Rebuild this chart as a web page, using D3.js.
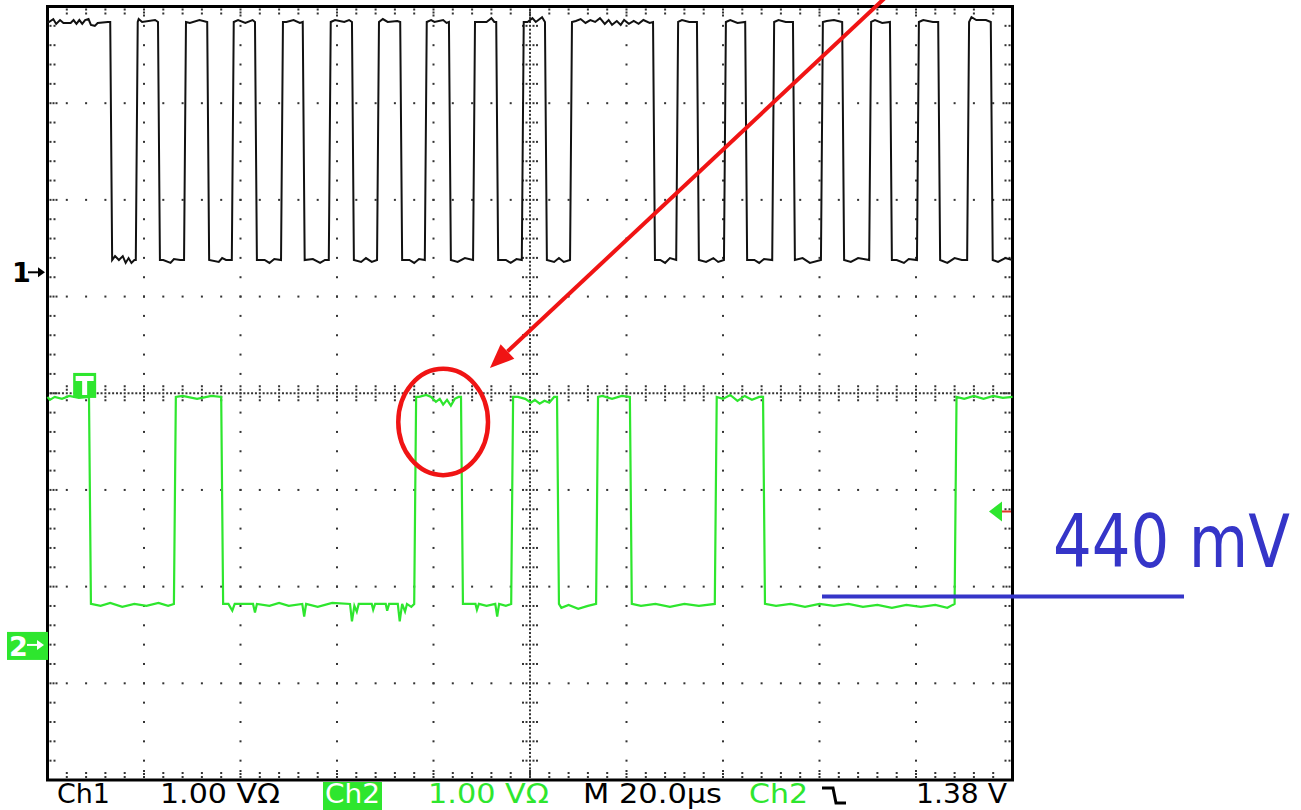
<!DOCTYPE html>
<html>
<head>
<meta charset="utf-8">
<script src="https://cdn.jsdelivr.net/npm/d3@7"></script>
<style>
  body { margin: 0; background: #fff; }
  svg { display: block; }
  text { font-family: "DejaVu Sans", sans-serif; }
</style>
</head>
<body>
<div id="scope"></div>
<script>
// screen is 10 div x 20 us across, 8 div tall
var timeRange = [0, 200]; // us
var divRange = [-4, 4];
var voltsPerDiv = 1.0;

// channel ground markers (div from centre) and levels (V)
var ch1Pos = 1.251, ch2Pos = -2.603;
var ch1High = 2.589, ch1Low = 0.127;
var ch2High = 2.565, ch2Low = 0.424;
var trigLevel = 1.38; // V on ch2
var trigTime = 7.7;   // us
var markLevel = 0.5;  // blue annotation line, V on ch2

// edge times (us), both traces start high
var ch1Edges = [13.0, 18.3, 22.9, 28.3, 33.1, 38.2, 43.0, 48.4, 52.9, 58.3, 63.1, 68.3,
  73.1, 78.2, 83.2, 88.2, 93.0, 98.3, 103.1, 108.3, 125.5, 130.3, 134.6, 140.2, 144.6,
  150.2, 154.5, 160.3, 164.7, 170.3, 174.6, 180.2, 184.6, 190.6, 195.5];
var ch2Edges = [8.6, 26.2, 36.0, 76.0, 85.7, 96.1, 105.6, 113.7, 120.7, 138.3, 148.3, 188.0];

// noise on the flat parts [t us, dV]
var ch1Ripple = [[0.3,0],[1.2,0.03],[1.8,-0.02],[2.6,0.02],[3.3,-0.01],[4.8,-0.01],[5.4,0.02],
  [6.0,-0.02],[6.6,0.02],[7.2,-0.02],[7.8,0.02],[8.5,0.03],[9.0,-0.03],[9.8,-0.04],[10.4,-0.01],[12.5,0],
  [14.0,0.04],[14.8,0],[15.6,0.04],[16.2,-0.03],[16.8,0.02],[17.4,-0.03],[18.0,0],
  [18.9,0.03],[19.6,0],[22.3,0.02],[24.0,0],[25.5,-0.03],[26.2,0.01],[27.5,0],
  [29.5,-0.01],[31.5,0.02],[35.5,-0.02],[36.2,0.02],[37.0,0],[39.5,0.02],[41.0,-0.01],[42.5,0.02],
  [45.0,0],[46.0,-0.03],[47.0,0.01],[49.5,0],[51.0,0.02],[52.3,-0.01],[55.0,0.01],[56.5,-0.03],[57.5,0],
  [59.6,0.02],[61.5,0],[62.5,0.02],[65.0,-0.02],[66.0,0.02],[67.2,-0.02],[69.5,0.03],[70.5,0],[72.5,0.01],
  [75.0,0],[76.0,-0.03],[77.0,0.01],[79.5,0.02],[80.2,0],[82.0,0.02],[82.7,-0.01],[85.0,-0.02],[86.5,0.02],
  [89.2,0],[91.0,0],[92.0,0.04],[92.6,0],[95.0,0],[96.0,-0.03],[97.2,0.01],
  [99.5,0],[100.5,0.04],[101.2,0],[102.5,0.05],[105.0,-0.02],[106.0,0.02],[107.0,-0.02],
  [109.5,0.01],[110.5,0.03],[111.5,-0.01],[112.5,0.02],[113.5,0],[114.5,0.04],[115.5,-0.02],[116.3,0.02],
  [117.0,-0.03],[118.0,0.01],[118.8,-0.03],[119.5,0.02],[120.5,-0.02],[121.5,0.01],[122.5,-0.02],
  [123.5,0.02],[124.8,-0.01],[127,0],[128,-0.03],[129,0.02],[131.5,0.02],[133,0],
  [136.5,-0.02],[138,0.02],[139,-0.02],[141.5,0.02],[143,-0.01],[146.5,0],[147.5,-0.03],[148.5,0.01],
  [151.5,0.02],[153,0],[156.5,0.02],[158,-0.03],[161.5,0.01],[163,0.02],[166.5,-0.02],[168,0.02],
  [171.5,0.02],[173,-0.01],[176,0],[177.5,-0.03],[178.5,0.01],[181.5,0.02],[183.5,0],
  [186.5,-0.03],[188,0.02],[189.5,0],[191.5,0.05],[192.5,0.02],[194.5,0.02],[197,-0.02],[198.5,0.02]];

var ch2Ripple = [[0.5,-0.03],[1.5,0],[3.0,-0.02],[4.5,0.01],[6.5,-0.01],
  [11.0,-0.02],[13.0,0.01],[15.5,-0.03],[18.0,0],[20.5,-0.02],[23.0,0.01],[25.0,-0.02],
  [28,0.01],[31,-0.02],[34,0.01],
  [37.5,0],[38.3,-0.07],[38.8,0],[42.6,0],[43.0,-0.09],[43.4,0],[46,-0.02],[48,0.01],[50,-0.02],
  [52.8,0],[53.2,-0.13],[53.6,0],[56,-0.03],[59,0.01],[62.7,0],[63.1,-0.18],[63.6,-0.02],[64.1,-0.08],
  [64.5,0],[67.2,0],[67.5,-0.06],[67.9,0],[70.1,0],[70.4,-0.07],[70.8,0],[72.6,0],[73.0,-0.18],
  [73.5,0],[74.1,-0.08],[74.5,0],[75.4,-0.03],
  [77,0],[78.5,0.02],[79.5,0],[80.5,-0.05],[81.3,-0.02],[82.0,-0.08],[82.8,-0.03],[83.6,-0.09],[84.4,-0.02],[85.2,0],
  [87,0],[88.7,0],[89.0,-0.06],[89.4,0],[91,-0.02],[92.8,0],[93.2,-0.13],[93.6,0],[95,-0.02],
  [97.5,0],[99.0,-0.02],[100.2,-0.06],[101.0,-0.03],[102.0,-0.07],[103.0,-0.04],[104.0,-0.06],[105,0],
  [106.5,-0.04],[108,-0.01],[110,-0.05],[112,-0.02],[115,0.01],[117,-0.02],[119,0.01],
  [123,-0.02],[126,0],[129,-0.03],[132,0],[135,-0.02],
  [140,-0.02],[141.5,0.02],[143,-0.04],[144.5,0.01],[146,-0.03],[147.5,0],
  [151,-0.02],[154,0],[157,-0.03],[160,0],[163,-0.02],[166,0],[169,-0.03],[172,-0.01],[175,-0.04],
  [178,-0.01],[181,-0.03],[184,-0.01],[186.5,-0.04],[187.6,-0.01],
  [190,-0.02],[192,0.01],[194,-0.02],[196,0.01],[198,-0.01]];

var readout = ["Ch1", "1.00 V\u03A9", "Ch2", "1.00 V\u03A9", "M 20.0\u00B5s", "Ch2", "1.38 V"];
var noteText = "440 mV";
// callout positions in screen units (us, div)
var calloutCircle = [82.0, -0.297, 9.3, 0.55];
var calloutArrow = [[173.8, 4.1], [91.7, 0.262]];

var W = 1301, H = 810;
var green = "#2ee62e";
var slew = 0.4;

var x = d3.scaleLinear().domain(timeRange).range([47.5, 1012.5]);
var y = d3.scaleLinear().domain(divRange).range([780, 6.5]);

var svg = d3.select("#scope").append("svg")
  .attr("width", W).attr("height", H);
svg.append("rect").attr("width", W).attr("height", H).attr("fill", "#fff");

// ---- graticule ----
var dots = svg.append("g").attr("fill", "#333");
function dot(cx, cy) {
  dots.append("rect").attr("x", cx - 1).attr("y", cy - 1).attr("width", 2).attr("height", 2);
}
var minorT = d3.range(4, 200, 4);
var minorD = d3.range(-3.8, 3.9, 0.2);
d3.range(20, 200, 20).forEach(function(t) {
  if (t === 100) return;
  minorD.forEach(function(d) { dot(x(t), y(d)); });
});
d3.range(-3, 4, 1).forEach(function(d) {
  if (d === 0) return;
  minorT.forEach(function(t) { dot(x(t), y(d)); });
});
// centre cross, fine dots and ticks
d3.range(-4, 4.001, 0.04).forEach(function(d) { dot(x(100), y(d)); });
d3.range(0, 200.01, 0.8).forEach(function(t) { dot(x(t), y(0)); });
minorD.forEach(function(d) { [-7, -3.5, 3.5, 7].forEach(function(o) { dot(x(100) + o, y(d)); }); });
minorT.forEach(function(t) { [-7, -3.5, 3.5, 7].forEach(function(o) { dot(x(t), y(0) + o); }); });
// frame ticks
minorD.forEach(function(d) {
  var n = Math.abs(d - Math.round(d)) < 0.01 ? [3, 6, 9] : [3, 7];
  n.forEach(function(o) { dot(x(0) + o, y(d)); dot(x(200) - o, y(d)); });
});
minorT.forEach(function(t) {
  var n = t % 20 === 0 ? [3, 6, 9] : [3, 7];
  n.forEach(function(o) { dot(x(t), y(-4) - o); dot(x(t), y(4) + o); });
});

svg.append("rect")
  .attr("x", x(0)).attr("y", y(4))
  .attr("width", x(200) - x(0)).attr("height", y(-4) - y(4))
  .attr("fill", "none").attr("stroke", "#000").attr("stroke-width", 3);

// ---- traces ----
function tracePoints(edges, hi, lo, ripple) {
  var pts = [], level = hi, segStart = timeRange[0];
  pts.push([segStart, level]);
  edges.concat([timeRange[1]]).forEach(function(tEnd, i) {
    ripple.filter(function(r) { return r[0] > segStart && r[0] < tEnd; })
      .forEach(function(r) { pts.push([r[0], level + r[1]]); });
    pts.push([tEnd, level]);
    if (i < edges.length) {
      level = level === hi ? lo : hi;
      segStart = tEnd + slew;
      pts.push([segStart, level]);
    }
  });
  return pts;
}

function traceLine(pos) {
  return d3.line()
    .x(function(d) { return x(d[0]); })
    .y(function(d) { return y(pos + d[1] / voltsPerDiv); });
}

svg.append("path")
  .attr("d", traceLine(ch2Pos)(tracePoints(ch2Edges, ch2High, ch2Low, ch2Ripple)))
  .attr("fill", "none").attr("stroke", green).attr("stroke-width", 2.2);

svg.append("path")
  .attr("d", traceLine(ch1Pos)(tracePoints(ch1Edges, ch1High, ch1Low, ch1Ripple)))
  .attr("fill", "none").attr("stroke", "#111").attr("stroke-width", 2);

// ---- markers ----
var y1 = y(ch1Pos), y2 = y(ch2Pos);
svg.append("text").attr("x", 12).attr("y", y1 + 10).attr("font-size", 27)
  .attr("font-weight", "bold").text("1");
svg.append("path").attr("d", "M28," + y1 + "H40").attr("stroke", "#000").attr("stroke-width", 2);
svg.append("path").attr("d", "M38," + (y1 - 5) + "L45," + y1 + "L38," + (y1 + 5) + "Z").attr("fill", "#000");

svg.append("rect").attr("x", 7).attr("y", y2 - 13).attr("width", 41).attr("height", 28).attr("fill", green);
svg.append("text").attr("x", 9).attr("y", y2 + 11).attr("font-size", 27)
  .attr("font-weight", "bold").attr("fill", "#fff").text("2");
svg.append("path").attr("d", "M27," + y2 + "H40").attr("stroke", "#fff").attr("stroke-width", 2);
svg.append("path").attr("d", "M37," + (y2 - 5) + "L44," + y2 + "L37," + (y2 + 5) + "Z").attr("fill", "#fff");

// trigger position T
var tx = x(trigTime), ty = y(ch2Pos + ch2High / voltsPerDiv);
svg.append("rect").attr("x", tx - 11.5).attr("y", ty - 24).attr("width", 23).attr("height", 25).attr("fill", green);
svg.append("path").attr("d", "M" + (tx - 9) + "," + (ty - 21) + "H" + (tx + 9) + "V" + (ty - 16) +
  "H" + (tx + 2.5) + "V" + (ty - 2) + "H" + (tx - 2.5) + "V" + (ty - 16) + "H" + (tx - 9) + "Z")
  .attr("fill", "#fff");

// trigger level arrow
var ly = y(ch2Pos + trigLevel / voltsPerDiv);
svg.append("path").attr("d", "M989," + ly + "L1002," + (ly - 10) + "L1002," + (ly + 10) + "Z").attr("fill", green);
svg.append("path").attr("d", "M1002," + ly + "H1011").attr("stroke", "#e03a2a").attr("stroke-width", 2);

// ---- readout line ----
var by = 803;
svg.append("rect").attr("x", 323).attr("y", 782).attr("width", 59).attr("height", 28).attr("fill", green);
var layout = [
  { x: 57, w: 53, c: "#000" }, { x: 160, w: 120, c: "#000" }, { x: 325, w: 55, c: "#fff" },
  { x: 428, w: 121, c: green }, { x: 583, w: 139, c: "#000" }, { x: 749, w: 59, c: green },
  { x: 916, w: 91, c: "#000" }];
readout.forEach(function(s, i) {
  svg.append("text").attr("x", layout[i].x).attr("y", by)
    .attr("font-size", 27).attr("fill", layout[i].c)
    .attr("textLength", layout[i].w).attr("lengthAdjust", "spacingAndGlyphs")
    .text(s);
});
// falling slope symbol
svg.append("path").attr("d", "M822,788H833L836,803H846")
  .attr("fill", "none").attr("stroke", "#000").attr("stroke-width", 3);

// ---- annotations ----
var blue = "#3535c8";
var my = y(ch2Pos + markLevel / voltsPerDiv);
svg.append("line").attr("x1", 822).attr("x2", 1184).attr("y1", my).attr("y2", my)
  .attr("stroke", blue).attr("stroke-width", 4);
svg.append("text")
  .attr("transform", "translate(1053,567) scale(1,1.2)")
  .attr("font-family", "'Comic Sans MS', 'DejaVu Sans', sans-serif")
  .attr("font-size", 61).attr("fill", blue)
  .text(noteText);

var red = "#f01414";
svg.append("ellipse")
  .attr("cx", x(calloutCircle[0])).attr("cy", y(calloutCircle[1]))
  .attr("rx", x(calloutCircle[2]) - x(0)).attr("ry", y(0) - y(calloutCircle[3]))
  .attr("fill", "none").attr("stroke", red).attr("stroke-width", 4.5);

var a0 = [x(calloutArrow[0][0]), y(calloutArrow[0][1])];
var a1 = [x(calloutArrow[1][0]), y(calloutArrow[1][1])];
var ang = Math.atan2(a1[1] - a0[1], a1[0] - a0[0]);
var hl = 24, hw = 10;
var bx = a1[0] - hl * Math.cos(ang), byy = a1[1] - hl * Math.sin(ang);
svg.append("line").attr("x1", a0[0]).attr("y1", a0[1]).attr("x2", bx).attr("y2", byy)
  .attr("stroke", red).attr("stroke-width", 4);
svg.append("path")
  .attr("d", "M" + a1[0] + "," + a1[1] +
    "L" + (bx + hw * Math.sin(ang)) + "," + (byy - hw * Math.cos(ang)) +
    "L" + (bx - hw * Math.sin(ang)) + "," + (byy + hw * Math.cos(ang)) + "Z")
  .attr("fill", red);
</script>
</body>
</html>
